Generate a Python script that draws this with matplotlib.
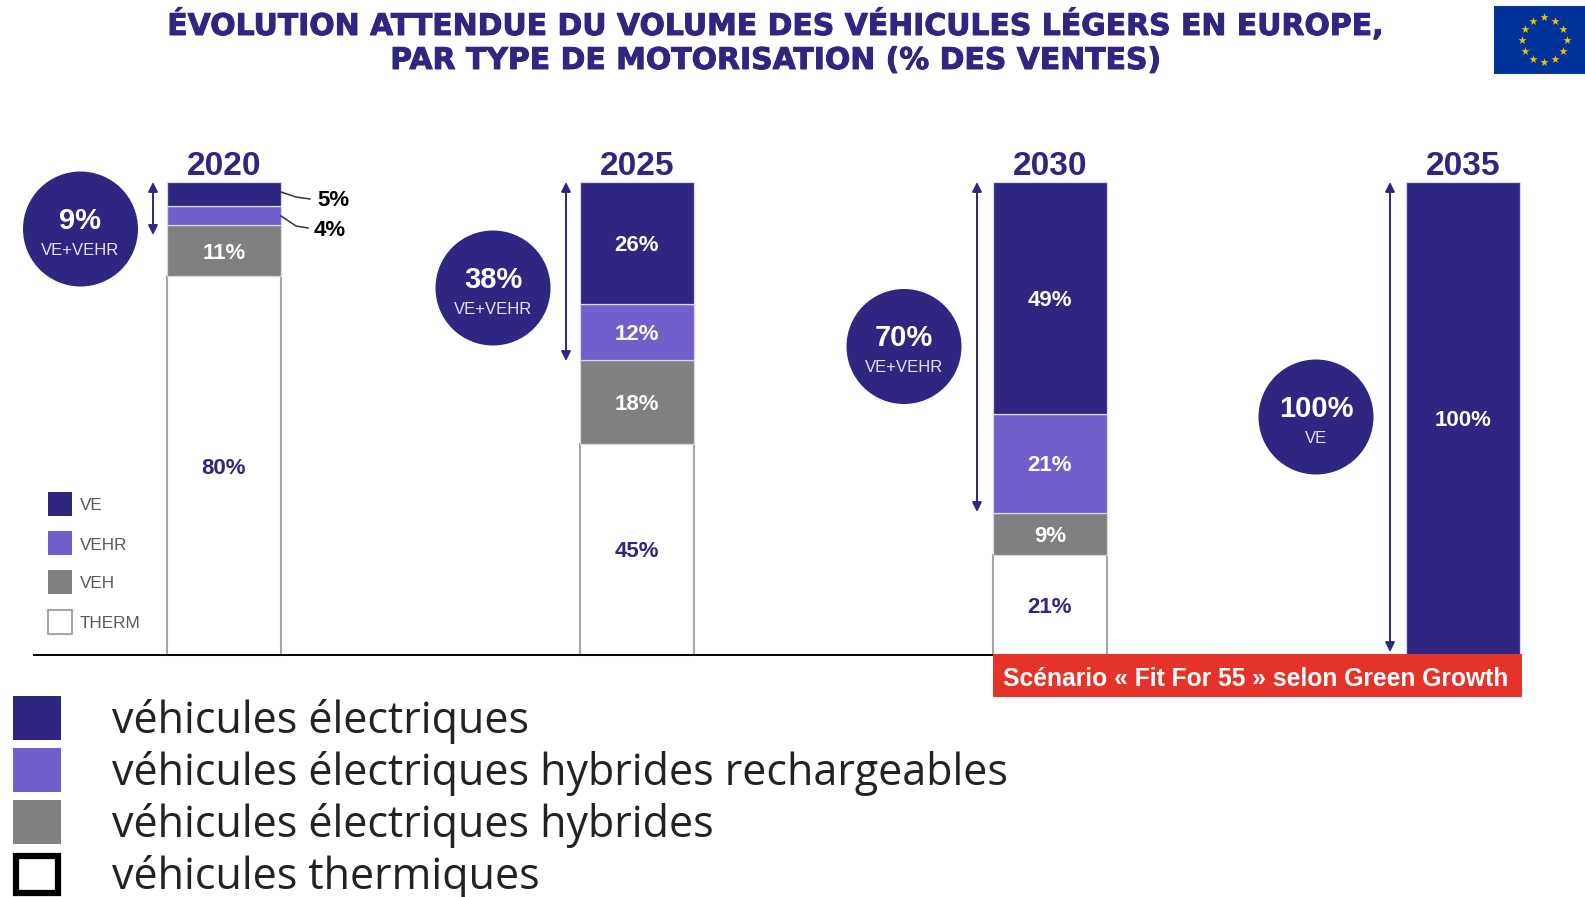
#!/usr/bin/env python3
import matplotlib
matplotlib.use("Agg")
import matplotlib.patheffects as pe
import matplotlib.pyplot as plt
import numpy as np
from matplotlib.patches import Circle, Rectangle

plt.rcParams["font.family"] = ["Liberation Sans", "DejaVu Sans"]

W, H = 1585, 897
NAVY = "#2E2680"
PURPLE = "#6F60CC"
GREY = "#808080"
RED = "#E6332A"

years = [2020, 2025, 2030, 2035]
ve = [5, 26, 49, 100]
vehr = [4, 12, 21, 0]
veh = [11, 18, 9, 0]
therm = [80, 45, 21, 0]

bubble_values = ["9%", "38%", "70%", "100%"]
bubble_labels = ["VE+VEHR", "VE+VEHR", "VE+VEHR", "VE"]
small_legend = ["VE", "VEHR", "VEH", "THERM"]
big_legend = ["véhicules électriques",
              "véhicules électriques hybrides rechargeables",
              "véhicules électriques hybrides",
              "véhicules thermiques"]
title_lines = ["ÉVOLUTION ATTENDUE DU VOLUME DES VÉHICULES LÉGERS EN EUROPE,",
               "PAR TYPE DE MOTORISATION (% DES VENTES)"]

fig = plt.figure(figsize=(W / 100, H / 100), dpi=100, facecolor="white")

# bars live in their own axes, overlay uses image pixels
ax = fig.add_axes([34 / W, 1 - 654.5 / H, (1520 - 34) / W, (654.5 - 182) / H])
ax.set_xlim(2020 - 190 / 82.6, 2020 + 1296 / 82.6)
ax.set_ylim(0, 100)
ax.patch.set_alpha(0)
for s in ["top", "left", "right"]:
    ax.spines[s].set_visible(False)
ax.spines["bottom"].set_linewidth(1.4)
ax.spines["bottom"].set_color("black")
ax.set_xticks([])
ax.set_yticks([])

x = np.array(years, dtype=float)
barw = 1.385
totals = np.array(ve) + np.array(vehr) + np.array(veh) + np.array(therm)
bottom = np.zeros(4)
layers = [(therm, "white", "#A6A6A6"), (veh, GREY, "#D9D9D9"),
          (vehr, PURPLE, "#D9D6F2"), (ve, NAVY, "#D9D6F2")]
for vals, col, edge in layers:
    h = np.array(vals) / totals * 100
    keep = h > 0
    ax.bar(x[keep], h[keep], bottom=bottom[keep], width=barw, color=col,
           edgecolor=edge, linewidth=0.9 if col != "white" else 1.5, zorder=2,
           clip_on=False)
    for xi, b, hi, v in zip(x[keep], bottom[keep], h[keep], np.array(vals)[keep]):
        if v in (5, 4):
            continue
        c = NAVY if col == "white" else "white"
        ax.text(xi, b + hi / 2 - 0.55, f"{v}%", ha="center", va="center", color=c,
                fontsize=16, fontweight="bold", zorder=3)
    bottom = bottom + h

for xi, y in zip(x, years):
    ax.text(xi, 99.9, str(y), ha="center", va="bottom", color=NAVY,
            fontsize=24, fontweight="bold")

# overlay
ov = fig.add_axes([0, 0, 1, 1])
ov.set_xlim(0, W)
ov.set_ylim(H, 0)
ov.axis("off")
ov.patch.set_alpha(0)

# heavier than any installed bold, so thicken it a little
for y, line in zip([25, 60.5], title_lines):
    ov.text(776, y, line, ha="center", va="center", color=NAVY, fontsize=21.5,
            fontweight="bold", family=["DejaVu Sans"],
            path_effects=[pe.withStroke(linewidth=0.7, foreground=NAVY)])

# flag
ov.add_patch(Rectangle((1494, 6), 91, 68, facecolor="#003399", edgecolor="none"))
ang = np.deg2rad(np.arange(0, 360, 30))
ov.scatter(1544 + 22.5 * np.cos(ang), 40 + 22.5 * np.sin(ang), marker="*",
           s=38, color="#F2C200", linewidths=0, zorder=3)

# bubbles and arrows
bubble_xy = [(80.5, 229), (493, 288), (904, 346.5), (1316, 417)]
arrows = [(153, 182, 235), (566, 182, 361), (977, 182, 512), (1390, 182, 652)]
for (cx, cy), big, small in zip(bubble_xy, bubble_values, bubble_labels):
    ov.add_patch(Circle((cx, cy), 57.5, facecolor=NAVY, edgecolor="none"))
    ov.text(cx, cy - 8, big, ha="center", va="center", color="white",
            fontsize=21, fontweight="bold")
    ov.text(cx, cy + 21.5, small, ha="center", va="center", color="#E4E2F4",
            fontsize=12)
for ax_x, y0, y1 in arrows:
    ov.annotate("", xy=(ax_x, y1), xytext=(ax_x, y0),
                arrowprops=dict(arrowstyle="<|-|>", color=NAVY, lw=1.4,
                                mutation_scale=14, shrinkA=0, shrinkB=0))

# small value callouts for the 2020 bar
ov.plot([281, 296, 310], [192, 197, 199], color="#333333", lw=1.1)
ov.plot([281, 296, 308], [216, 226, 228], color="#333333", lw=1.1)
ov.text(317, 201, "5%", va="center", ha="left", fontsize=16, fontweight="bold", color="black")
ov.text(314, 230, "4%", va="center", ha="left", fontsize=16, fontweight="bold", color="black")

# inner legend
small_y = [504.5, 543.5, 582, 622]
small_cols = [NAVY, PURPLE, GREY, "white"]
for y, lab, col in zip(small_y, small_legend, small_cols):
    ov.add_patch(Rectangle((47.5, y - 12), 24, 24, facecolor=col,
                           edgecolor="#A6A6A6" if col == "white" else "none", lw=1.5))
    ov.text(80, y + 1.5, lab, va="center", ha="left", fontsize=12.3, color="#595959")

# red scenario banner
ov.add_patch(Rectangle((993, 654), 528.5, 43, facecolor=RED, edgecolor="none", zorder=5))
ov.text(1256, 678.5, "Scénario « Fit For 55 » selon Green Growth", ha="center", va="center",
        color="white", fontsize=17.7, fontweight="bold", zorder=6)

# lower legend
big_y = [718.5, 770, 822, 875]
text_y = [721.5, 773, 825, 877]
big_cols = [NAVY, PURPLE, GREY, "white"]
for y, ty, lab, col in zip(big_y, text_y, big_legend, big_cols):
    if col == "white":
        ov.add_patch(Rectangle((16, y - 19), 42, 37, facecolor="white",
                               edgecolor="black", lw=4.5))
    else:
        ov.add_patch(Rectangle((13, y - 22), 48, 44, facecolor=col, edgecolor="none"))
    ov.text(112, ty, lab, va="center", ha="left", fontsize=31, color="#222222",
            family=["Open Sans", "DejaVu Sans"])

fig.savefig("out.png", dpi=100)
